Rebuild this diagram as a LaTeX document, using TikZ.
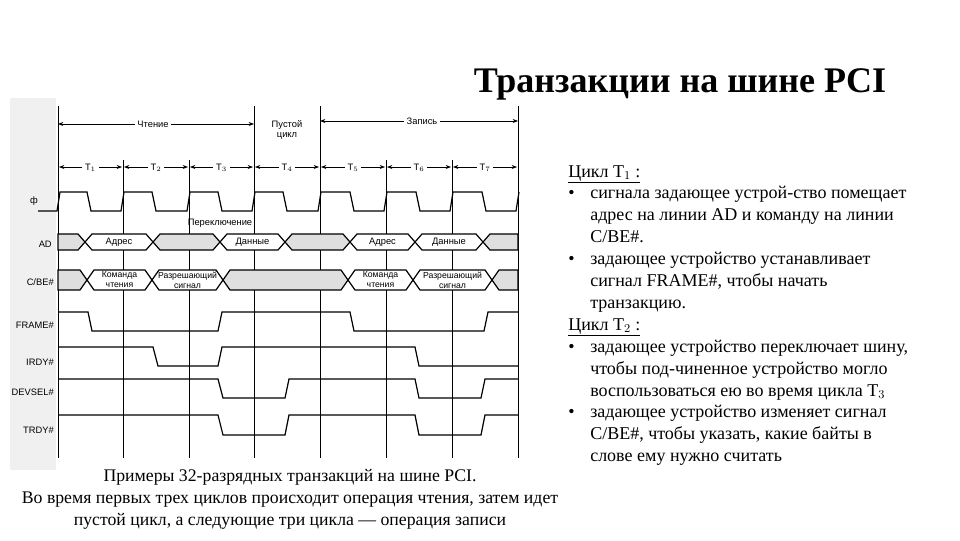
\documentclass[tikz,border=0pt]{standalone}
\usepackage{fontspec}
\setmainfont{Liberation Serif}
\newfontfamily\dsans{Liberation Sans}
\usetikzlibrary{arrows.meta}
\newcommand\bul{\makebox[16.5pt][l]{•}}
\begin{document}
\begin{tikzpicture}[x=0.75pt,y=-0.75pt,
  sig/.style={line width=0.9pt},
  grid/.style={line width=0.6pt},
  lab/.style={font=\dsans\fontsize{7}{8}\selectfont,inner sep=0pt},
  dim/.style={line width=0.5pt,{Stealth[length=4pt]}-{Stealth[length=4pt]}},
  rt/.style={anchor=base west,inner sep=0pt,font=\fontsize{13.5}{15}\selectfont},
  captxt/.style={anchor=base,inner sep=0pt,font=\fontsize{13.3}{15}\selectfont}]
\useasboundingbox (0,0) rectangle (960,540);
\fill[gray!12] (10,98) rectangle (56,470);
\node[anchor=base,inner sep=0pt,font=\bfseries\fontsize{27}{30}\selectfont] (title) at (680,92) {Транзакции на шине PCI};
% grid lines
\foreach \x in {58,254,320,518} \draw[grid] (\x,106) -- (\x,458);
\foreach \x in {123,189,386,452} \draw[grid] (\x,160) -- (\x,458);
% top labels
\coordinate (ra) at (58,124); \coordinate (rb) at (254,124);
\draw[dim] (ra) -- (rb);
\node[lab,fill=white,inner xsep=2pt] (rd) at (153,124) {Чтение};
\node[lab,align=center] (idle) at (287,130) {Пустой\\цикл};
\coordinate (wa) at (320,121); \coordinate (wb) at (518,121);
\draw[dim] (wa) -- (wb);
\node[lab,fill=white,inner xsep=2pt] (wr) at (422,121) {Запись};
% T arrows
\foreach \i/\a/\b in {1/58/123,2/123/189,3/189/254,4/254/320,5/320/386,6/386/452,7/452/518}{
  \draw[dim] (\a+1,167) -- (\b-1,167);
  \node[lab,fill=white,inner xsep=2pt] (t\i) at ({(\a+\b)/2},168) {T$_{\i}$};
}
% clock
\draw[sig] (38,211) -- (57,211) -- (60,192) -- (87,192) -- (91,211) -- (121,211) -- (124,192) -- (152,192) -- (156,211) -- (187,211) -- (190,192) -- (218,192) -- (222,211) -- (252,211) -- (255,192) -- (283,192) -- (287,211) -- (318,211) -- (321,192) -- (350,192) -- (354,211) -- (384,211) -- (387,192) -- (416,192) -- (420,211) -- (450,211) -- (453,192) -- (482,192) -- (486,211) -- (516,211) -- (519,192);
\node[lab,anchor=east] (lphi) at (38,201) {ф};
\node[lab] (sw) at (220,223) {Переключение};
% bus AD
\def\h{8}\def\w{7}
\foreach \a/\b/\f/\t [count=\n] in {58/85/1/{},85/153/0/Адрес,153/220/1/{},220/285/0/Данные,285/350/1/{},350/415/0/Адрес,415/483/0/Данные,483/518/1/{}}{
  \ifnum\f=1 \def\fc{gray!25}\else\def\fc{white}\fi
  \draw[sig,fill=\fc] ({\a+(\a==58?0:\w)},242-\h) -- ({\b-(\b==518?0:\w)},242-\h) -- (\b,242) -- ({\b-(\b==518?0:\w)},242+\h) -- ({\a+(\a==58?0:\w)},242+\h) -- (\a,242) -- cycle;
  \node[lab] (ad\n) at ({(\a+\b)/2},242) {\t};
}
\node[lab,anchor=east] (lad) at (52,244) {AD};
% bus C/BE#
\def\h{10}
\foreach \a/\b/\f/\t [count=\n] in {58/87/1/{},87/152/0/{Команда\\чтения},152/223/0/{Разрешающий\\сигнал},223/348/1/{},348/413/0/{Команда\\чтения},413/492/0/{Разрешающий\\сигнал},492/518/1/{}}{
  \ifnum\f=1 \def\fc{gray!25}\else\def\fc{white}\fi
  \draw[sig,fill=\fc] ({\a+(\a==58?0:\w)},280-\h) -- ({\b-(\b==518?0:\w)},280-\h) -- (\b,280) -- ({\b-(\b==518?0:\w)},280+\h) -- ({\a+(\a==58?0:\w)},280+\h) -- (\a,280) -- cycle;
  \node[lab,align=center,font=\dsans\fontsize{6.5}{7.5}\selectfont] (cb\n) at ({(\a+\b)/2},280) {\t};
}
\node[lab,anchor=east] (lcb) at (54,282) {C/BE\#};
% control signals
\draw[sig] (58,312) -- (88,312) -- (92,331) -- (218,331) -- (222,312) -- (350,312) -- (354,331) -- (484,331) -- (488,312) -- (518,312);
\node[lab,anchor=east] (lfr) at (54,325) {FRAME\#};
\draw[sig] (58,347) -- (153,347) -- (158,366) -- (218,366) -- (222,347) -- (415,347) -- (419,366) -- (518,366);
\node[lab,anchor=east] (lir) at (54,362) {IRDY\#};
\draw[sig] (58,379) -- (218,379) -- (223,398) -- (285,398) -- (289,379) -- (415,379) -- (419,398) -- (481,398) -- (485,379) -- (518,379);
\node[lab,anchor=east] (ldv) at (54,392) {DEVSEL\#};
\draw[sig] (58,415) -- (218,415) -- (223,435) -- (285,435) -- (289,415) -- (415,415) -- (419,435) -- (481,435) -- (485,415) -- (518,415);
\node[lab,anchor=east] (ltr) at (54,430) {TRDY\#};
% caption
\node[captxt] (c1) at (290,481) {Примеры 32-разрядных транзакций на шине PCI.};
\node[captxt] (c2) at (290,503) {Во время первых трех циклов происходит операция чтения, затем идет};
\node[captxt] (c3) at (290,525) {пустой цикл, а следующие три цикла — операция записи};
% right text
\node[rt] (r1) at (568,177) {\underline{Цикл T$_1$ :}};
\node[rt] (r2) at (568,198) {\bul сигнала задающее устрой-ство помещает};
\node[rt] (r3) at (590,220) {адрес на линии AD и команду на линии};
\node[rt] (r4) at (590,242) {C/BE\#.};
\node[rt] (r5) at (568,264) {\bul задающее устройство устанавливает};
\node[rt] (r6) at (590,286) {сигнал FRAME\#, чтобы начать};
\node[rt] (r7) at (590,308) {транзакцию.};
\node[rt] (r8) at (568,330) {\underline{Цикл T$_2$ :}};
\node[rt] (r9) at (568,352) {\bul задающее устройство переключает шину,};
\node[rt] (r10) at (590,374) {чтобы под-чиненное устройство могло};
\node[rt] (r11) at (590,396) {воспользоваться ею во время цикла T$_3$};
\node[rt] (r12) at (568,417) {\bul задающее устройство изменяет сигнал};
\node[rt] (r13) at (590,439) {C/BE\#, чтобы указать, какие байты в};
\node[rt] (r14) at (590,461) {слове ему нужно считать};
\end{tikzpicture}
\end{document}
